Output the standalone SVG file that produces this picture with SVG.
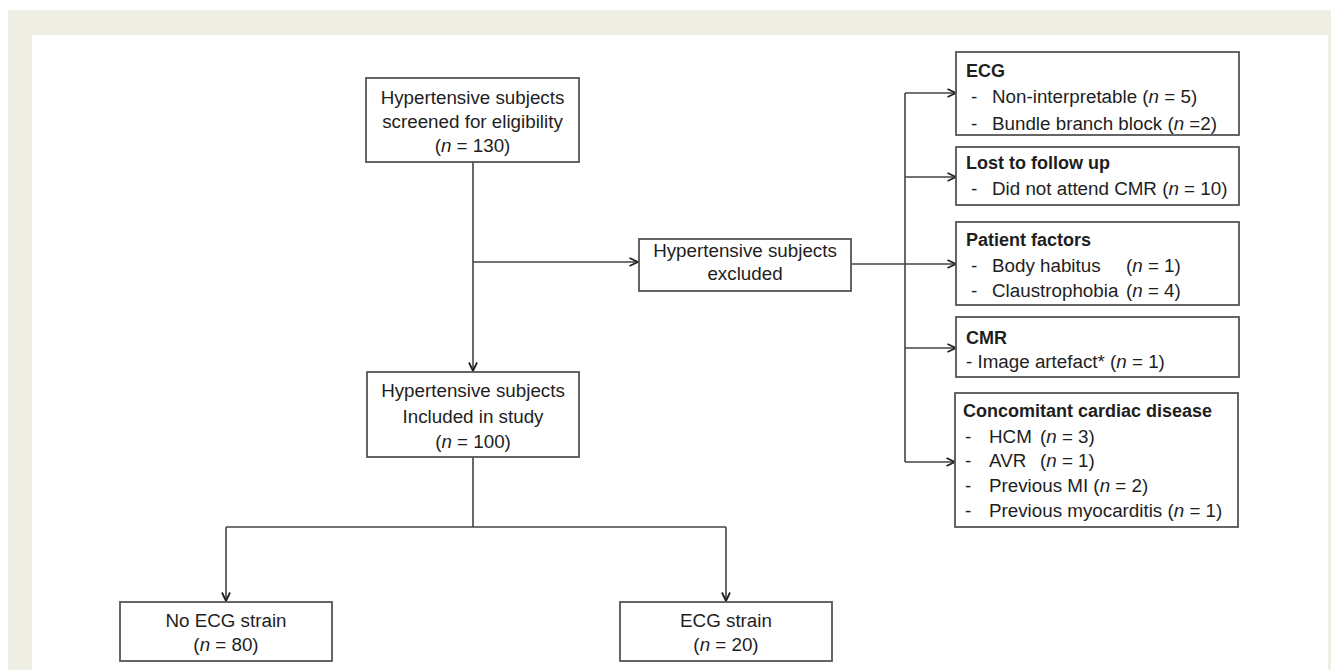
<svg xmlns="http://www.w3.org/2000/svg" width="1339" height="670" viewBox="0 0 1339 670">
<defs>
<style>
.box{fill:#fff;stroke:#555;stroke-width:1.8}
.t{font-family:"Liberation Sans",Arial,sans-serif;font-size:18.8px;fill:#1e1e1e}
.c{text-anchor:middle}
.b{font-weight:bold;font-size:18px}
.ln{fill:none;stroke:#444;stroke-width:1.6}
</style>
<marker id="arr" viewBox="0 0 10 10" refX="9.5" refY="5" markerWidth="10" markerHeight="10" markerUnits="userSpaceOnUse" orient="auto">
<path d="M1,1 L9.5,5 L1,9" fill="none" stroke="#222" stroke-width="1.8"/>
</marker>
</defs>
<rect x="0" y="0" width="1339" height="670" fill="#fff"/>
<rect x="8" y="10" width="1323" height="660" fill="#efeee4"/>
<rect x="32" y="35" width="1296" height="635" fill="#fff"/>

<g id="connectors">
<path class="ln" d="M473,162 V371" marker-end="url(#arr)"/>
<path class="ln" d="M473,262 H638" marker-end="url(#arr)"/>
<path class="ln" d="M851,264 H956" marker-end="url(#arr)"/>
<path class="ln" d="M905,93 V462"/>
<path class="ln" d="M905,93 H956" marker-end="url(#arr)"/>
<path class="ln" d="M905,177 H956" marker-end="url(#arr)"/>
<path class="ln" d="M905,348 H956" marker-end="url(#arr)"/>
<path class="ln" d="M905,462 H955" marker-end="url(#arr)"/>
<path class="ln" d="M473,457 V527"/>
<path class="ln" d="M226,527 H726"/>
<path class="ln" d="M226,527 V601" marker-end="url(#arr)"/>
<path class="ln" d="M726,527 V601" marker-end="url(#arr)"/>
</g>

<g id="screened">
<rect class="box" x="366" y="78" width="213" height="84"/>
<text class="t c" x="472.5" y="104">Hypertensive subjects</text>
<text class="t c" x="472.5" y="128">screened for eligibility</text>
<text class="t c" x="472.5" y="152">(<tspan font-style="italic">n</tspan> = 130)</text>
</g>

<g id="excluded">
<rect class="box" x="639" y="239" width="212" height="52"/>
<text class="t c" x="745" y="257">Hypertensive subjects</text>
<text class="t c" x="745" y="280">excluded</text>
</g>

<g id="included">
<rect class="box" x="367" y="372" width="212" height="85"/>
<text class="t c" x="473" y="397">Hypertensive subjects</text>
<text class="t c" x="473" y="423">Included in study</text>
<text class="t c" x="473" y="448">(<tspan font-style="italic">n</tspan> = 100)</text>
</g>

<g id="no-ecg-strain">
<rect class="box" x="120" y="602" width="212" height="59"/>
<text class="t c" x="226" y="627">No ECG strain</text>
<text class="t c" x="226" y="651">(<tspan font-style="italic">n</tspan> = 80)</text>
</g>

<g id="ecg-strain">
<rect class="box" x="620" y="602" width="212" height="59"/>
<text class="t c" x="726" y="627">ECG strain</text>
<text class="t c" x="726" y="651">(<tspan font-style="italic">n</tspan> = 20)</text>
</g>

<g id="ecg">
<rect class="box" x="956" y="52" width="283" height="83"/>
<text class="t b" x="966" y="77">ECG</text>
<text class="t" x="971" y="103">-</text>
<text class="t" x="992" y="103">Non-interpretable (<tspan font-style="italic">n</tspan> = 5)</text>
<text class="t" x="971" y="130">-</text>
<text class="t" x="992" y="130">Bundle branch block (<tspan font-style="italic">n</tspan> =2)</text>
</g>

<g id="lost">
<rect class="box" x="956" y="147" width="283" height="58"/>
<text class="t b" x="966" y="169">Lost to follow up</text>
<text class="t" x="971" y="195">-</text>
<text class="t" x="992" y="195">Did not attend CMR (<tspan font-style="italic">n</tspan> = 10)</text>
</g>

<g id="patient">
<rect class="box" x="956" y="222" width="283" height="83"/>
<text class="t b" x="966" y="246">Patient factors</text>
<text class="t" x="971" y="272">-</text>
<text class="t" x="992" y="272">Body habitus</text>
<text class="t" x="1126" y="272">(<tspan font-style="italic">n</tspan> = 1)</text>
<text class="t" x="971" y="297">-</text>
<text class="t" x="992" y="297">Claustrophobia</text>
<text class="t" x="1126" y="297">(<tspan font-style="italic">n</tspan> = 4)</text>
</g>

<g id="cmr">
<rect class="box" x="956" y="317" width="283" height="60"/>
<text class="t b" x="966" y="344">CMR</text>
<text class="t" x="966" y="368">- Image artefact* (<tspan font-style="italic">n</tspan> = 1)</text>
</g>

<g id="concomitant">
<rect class="box" x="955" y="393" width="283" height="134"/>
<text class="t b" x="963" y="417">Concomitant cardiac disease</text>
<text class="t" x="965" y="443">-</text>
<text class="t" x="989" y="443">HCM</text>
<text class="t" x="1040" y="443">(<tspan font-style="italic">n</tspan> = 3)</text>
<text class="t" x="965" y="467">-</text>
<text class="t" x="989" y="467">AVR</text>
<text class="t" x="1040" y="467">(<tspan font-style="italic">n</tspan> = 1)</text>
<text class="t" x="965" y="492">-</text>
<text class="t" x="989" y="492">Previous MI (<tspan font-style="italic">n</tspan> = 2)</text>
<text class="t" x="965" y="517">-</text>
<text class="t" x="989" y="517">Previous myocarditis (<tspan font-style="italic">n</tspan> = 1)</text>
</g>
</svg>
